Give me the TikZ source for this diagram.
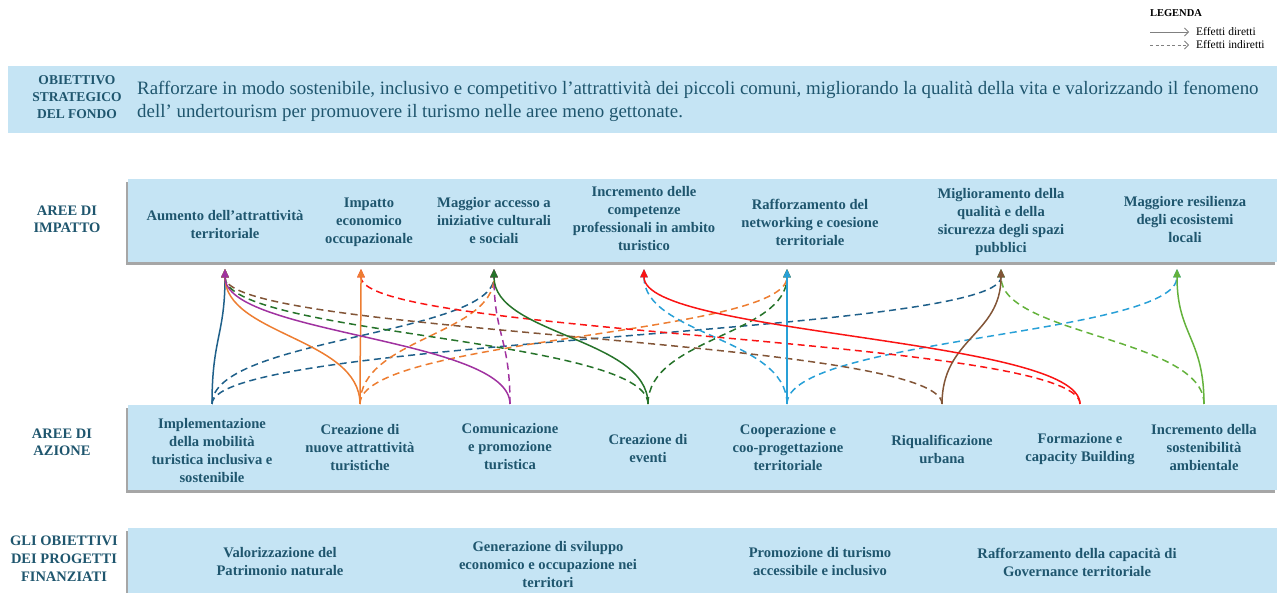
\documentclass[tikz,border=0pt]{standalone}
\usepackage{fontspec}
\setmainfont{Liberation Serif}
\usetikzlibrary{arrows.meta,shadows}

\definecolor{bandblue}{RGB}{197,228,244}
\definecolor{tealtext}{RGB}{31,86,110}
\definecolor{cMob}{RGB}{31,96,138}
\definecolor{cAtt}{RGB}{237,125,49}
\definecolor{cCom}{RGB}{160,50,160}
\definecolor{cEve}{RGB}{38,115,42}
\definecolor{cCoo}{RGB}{40,160,215}
\definecolor{cRiq}{RGB}{130,85,55}
\definecolor{cFor}{RGB}{250,20,20}
\definecolor{cSos}{RGB}{100,178,60}

\tikzset{
  band/.style={fill=bandblue, inner sep=0pt},
  shadowband/.style={band, drop shadow={shadow xshift=-2pt, shadow yshift=-3pt, fill=black, opacity=.35}},
  arealabel/.style={text=tealtext, font=\bfseries\fontsize{14.5}{17}\selectfont, align=center, inner sep=0pt},
  boxtext/.style={text=tealtext, font=\bfseries\fontsize{14.6}{18}\selectfont, align=center, inner sep=0pt},
  legtext/.style={font=\fontsize{11.5}{12}\selectfont, anchor=west, inner sep=0pt},
  legarrow/.style={gray, line width=.8pt, -{Straight Barb[length=4pt,width=8pt]}},
  direct/.style={line width=1.5pt, -{Triangle[length=8.5pt,width=7.5pt]}},
  indirect/.style={direct, dash pattern=on 7pt off 4.5pt},
  scurve/.style={to path={.. controls +(0,-66) and +(0,66) .. (\tikztotarget)}},
}

\begin{document}
\begin{tikzpicture}[x=1pt, y=-1pt]
  \useasboundingbox (0,0) rectangle (1277,593);
  % legend
  \node[font=\bfseries\fontsize{10.5}{12}\selectfont, inner sep=0pt] (legtitle) at (1176,13) {LEGENDA};
  \coordinate (legdirA) at (1150,32); \coordinate (legdirB) at (1189,32);
  \coordinate (legindA) at (1150,45); \coordinate (legindB) at (1189,45);
  \node[legtext] (legdir) at (1196,32) {Effetti diretti};
  \node[legtext] (legind) at (1196,45) {Effetti indiretti};
  \draw[legarrow] (legdirA) -- (legdirB);
  \draw[legarrow, dash pattern=on 3pt off 2.5pt] (legindA) -- (legindB);

  % bands
  \node[band, minimum width=1269pt, minimum height=67pt] (objband) at (642.5,99.5) {};
  \node[shadowband, minimum width=1149pt, minimum height=83pt] (impband) at (702.5,220.5) {};
  \node[shadowband, minimum width=1149pt, minimum height=85pt] (actband) at (702.5,447.5) {};
  \node[shadowband, minimum width=1149pt, minimum height=70pt] (goalband) at (702.5,563) {};

  % left labels
  \node[arealabel, font=\bfseries\fontsize{13.5}{17}\selectfont] (objlabel) at (77,97) {OBIETTIVO\\STRATEGICO\\DEL FONDO};
  \node[arealabel] (implabel) at (67,219) {AREE DI\\IMPATTO};
  \node[arealabel] (actlabel) at (62,442) {AREE DI\\AZIONE};
  \node[arealabel, font=\bfseries\fontsize{14.5}{18}\selectfont] (goallabel) at (64,559) {GLI OBIETTIVI\\DEI PROGETTI\\FINANZIATI};

  % strategic objective
  \node[anchor=west, text=tealtext, font=\fontsize{18.9}{23}\selectfont, align=left, inner sep=0pt] (objtext) at (137,101.5)
    {Rafforzare in modo sostenibile, inclusivo e competitivo l’attrattività dei piccoli comuni, migliorando la qualità della vita e valorizzando il fenomeno\\dell’ undertourism per promuovere il turismo nelle aree meno gettonate.};

  % impact areas
  \node[boxtext] (aum) at (225,225) {Aumento dell’attrattività\\territoriale};
  \node[boxtext] (imp) at (369,222) {Impatto\\economico\\occupazionale};
  \node[boxtext] (acc) at (494,221) {Maggior accesso a\\iniziative culturali\\e sociali};
  \node[boxtext] (cmp) at (644,219) {Incremento delle\\competenze\\professionali in ambito\\turistico};
  \node[boxtext] (net) at (810,222) {Rafforzamento del\\networking e coesione\\territoriale};
  \node[boxtext] (qua) at (1001,222) {Miglioramento della\\qualità e della\\sicurezza degli spazi\\pubblici};
  \node[boxtext] (res) at (1185,220) {Maggiore resilienza\\degli ecosistemi\\locali};

  % action areas
  \node[boxtext] (mob) at (212,451) {Implementazione\\della mobilità\\turistica inclusiva e\\sostenibile};
  \node[boxtext] (att) at (360,448) {Creazione di\\nuove attrattività\\turistiche};
  \node[boxtext] (com) at (510,447) {Comunicazione\\e promozione\\turistica};
  \node[boxtext] (eve) at (648,449) {Creazione di\\eventi};
  \node[boxtext] (coo) at (788,448) {Cooperazione e\\coo-progettazione\\territoriale};
  \node[boxtext] (riq) at (942,449) {Riqualificazione\\urbana};
  \node[boxtext] (for) at (1080,449) {Formazione e\\capacity Building};
  \node[boxtext] (sos) at (1204,448) {Incremento della\\sostenibilità\\ambientale};

  % project goals
  \node[boxtext] (natur) at (280,562) {Valorizzazione del\\Patrimonio naturale};
  \node[boxtext] (svil) at (548,565) {Generazione di sviluppo\\economico e occupazione nei\\territori};
  \node[boxtext] (incl) at (820,562) {Promozione di turismo\\accessibile e inclusivo};
  \node[boxtext] (gov) at (1077,562) {Rafforzamento della capacità di\\Governance territoriale};

  % arrow ends
  \coordinate (tAum) at (225,269);
  \coordinate (tImp) at (361,269);
  \coordinate (tAcc) at (494,269);
  \coordinate (tCmp) at (644,269);
  \coordinate (tNet) at (787,269);
  \coordinate (tQua) at (1001,269);
  \coordinate (tRes) at (1177,269);
  \coordinate (sMob) at (212,404);
  \coordinate (sAtt) at (360,404);
  \coordinate (sCom) at (510,404);
  \coordinate (sEve) at (648,404);
  \coordinate (sCoo) at (787,404);
  \coordinate (sRiq) at (942,404);
  \coordinate (sFor) at (1080,404);
  \coordinate (sSos) at (1204,404);

  % indirect effects
  \draw[indirect, cMob] (sMob) to[scurve] (tAcc);
  \draw[indirect, cMob] (sMob) to[scurve] (tQua);
  \draw[indirect, cAtt] (sAtt) to[scurve] (tAcc);
  \draw[indirect, cAtt] (sAtt) to[scurve] (tNet);
  \draw[indirect, cCom] (sCom) to[scurve] (tAcc);
  \draw[indirect, cEve] (sEve) to[scurve] (tAum);
  \draw[indirect, cEve] (sEve) to[scurve] (tNet);
  \draw[indirect, cCoo] (sCoo) to[scurve] (tCmp);
  \draw[indirect, cCoo] (sCoo) to[scurve] (tRes);
  \draw[indirect, cRiq] (sRiq) to[scurve] (tAum);
  \draw[indirect, cFor] (sFor) to[scurve] (tImp);
  \draw[indirect, cSos] (sSos) to[scurve] (tQua);
  % direct effects
  \draw[direct, cMob] (sMob) to[scurve] (tAum);
  \draw[direct, cAtt] (sAtt) to[scurve] (tAum);
  \draw[direct, cAtt] (sAtt) to[scurve] (tImp);
  \draw[direct, cCom] (sCom) to[scurve] (tAum);
  \draw[direct, cEve] (sEve) to[scurve] (tAcc);
  \draw[direct, cCoo] (sCoo) to[scurve] (tNet);
  \draw[direct, cRiq] (sRiq) to[scurve] (tQua);
  \draw[direct, cFor] (sFor) to[scurve] (tCmp);
  \draw[direct, cSos] (sSos) to[scurve] (tRes);
\end{tikzpicture}
\end{document}
